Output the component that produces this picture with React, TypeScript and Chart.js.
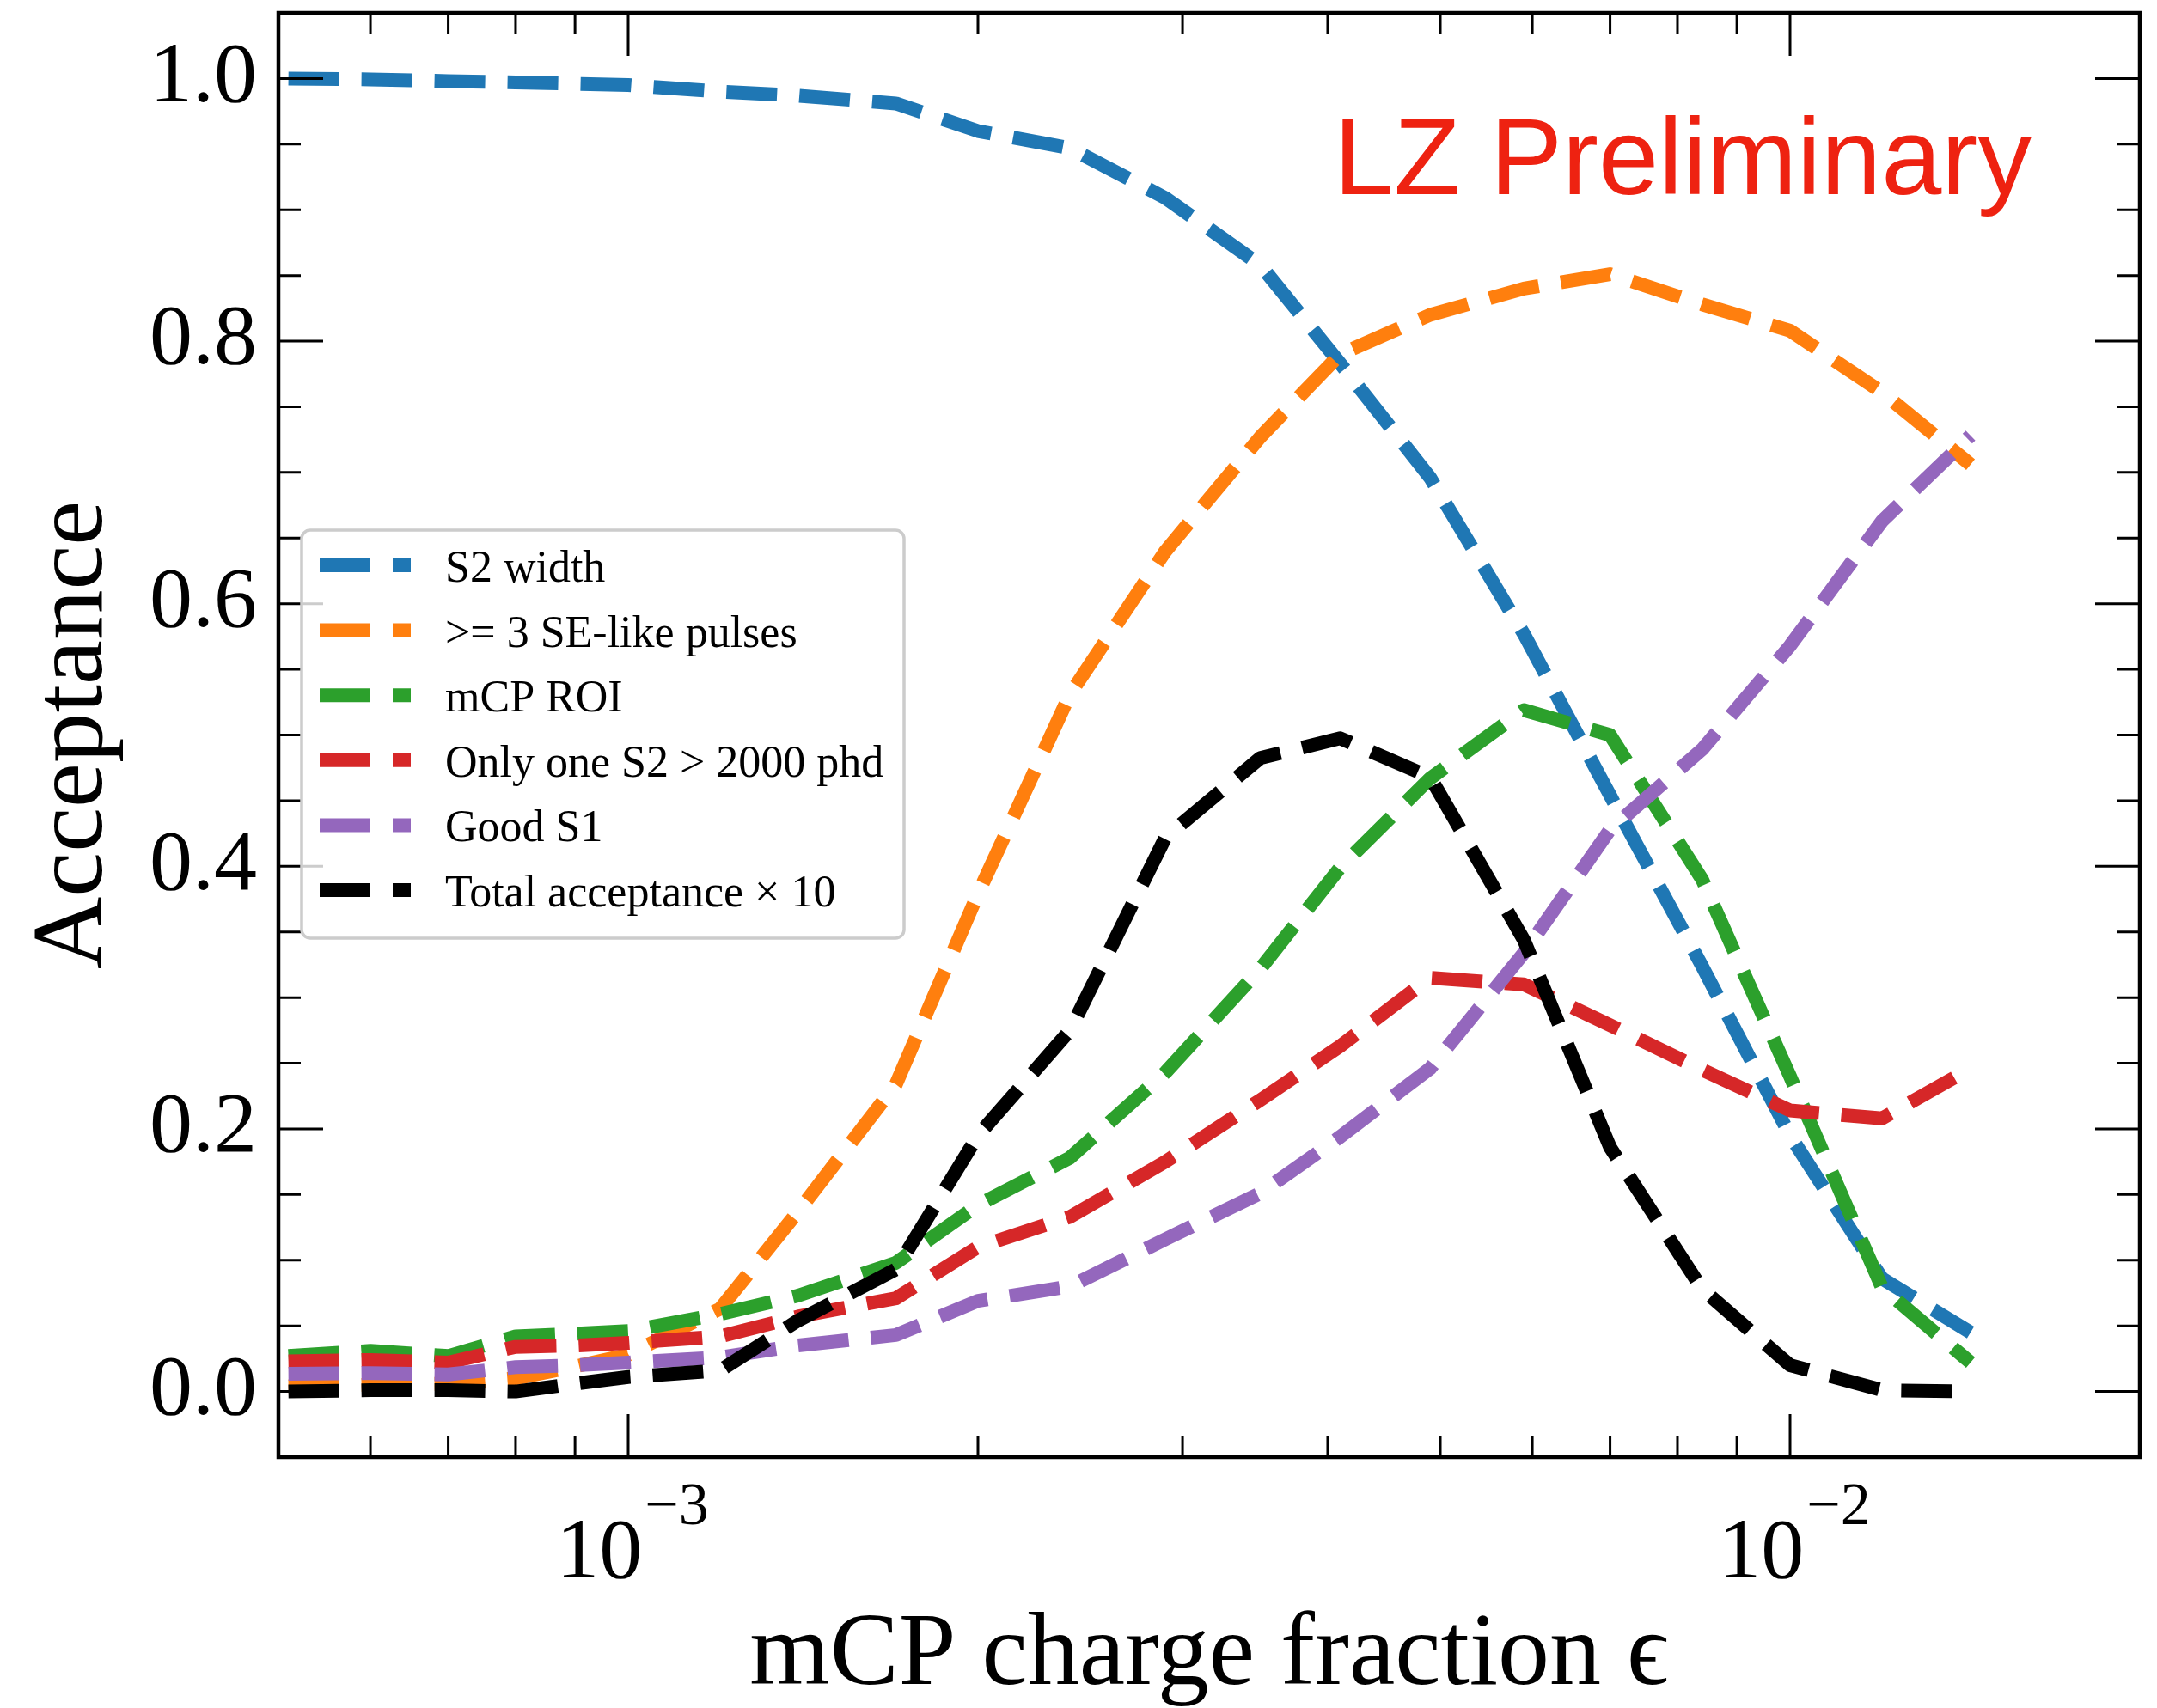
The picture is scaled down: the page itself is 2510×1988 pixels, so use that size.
import React, { useEffect, useRef } from "react";
import { Chart, registerables } from "chart.js";

Chart.register(...registerables);

// ---------------- data ----------------
const epsilon = [
  5.1e-4, 6e-4, 7e-4, 8e-4, 9e-4, 1e-3, 1.2e-3, 1.4e-3, 1.7e-3, 2e-3, 2.4e-3,
  2.9e-3, 3.5e-3, 4.1e-3, 4.9e-3, 5.9e-3, 7e-3, 8.4e-3, 1e-2, 1.2e-2, 1.43e-2,
];
const s2Width = [
  1.0, 0.9993, 0.998, 0.997, 0.996, 0.995, 0.99, 0.987, 0.981, 0.96, 0.947,
  0.909, 0.858, 0.783, 0.696, 0.577, 0.454, 0.324, 0.195, 0.086, 0.045,
];
const seLikePulses = [
  0.004, 0.005, 0.006, 0.01, 0.019, 0.028, 0.063, 0.137, 0.234, 0.379, 0.531,
  0.64, 0.727, 0.79, 0.82, 0.84, 0.851, 0.828, 0.808, 0.761, 0.706,
];
const mcpRoi = [
  0.027, 0.031, 0.027, 0.042, 0.044, 0.046, 0.059, 0.073, 0.098, 0.142, 0.178,
  0.243, 0.322, 0.399, 0.467, 0.519, 0.5, 0.39, 0.24, 0.079, 0.022,
];
const onlyOneS2 = [
  0.023, 0.024, 0.022, 0.034, 0.035, 0.037, 0.042, 0.057, 0.071, 0.11, 0.133,
  0.175, 0.222, 0.263, 0.315, 0.31, 0.279, 0.245, 0.214, 0.208, 0.246,
];
const goodS1 = [
  0.0135, 0.014, 0.013, 0.0185, 0.02, 0.022, 0.026, 0.035, 0.043, 0.069, 0.08,
  0.116, 0.151, 0.194, 0.246, 0.334, 0.428, 0.489, 0.568, 0.663, 0.728,
];
const totalAcceptanceX10 = [
  0.0, 0.001, 0.001, 0.0, 0.006, 0.011, 0.016, 0.054, 0.093, 0.195, 0.275,
  0.422, 0.4825, 0.4975, 0.468, 0.344, 0.186, 0.078, 0.02, 0.001, 0.0,
];

const seriesLabels = [
  "S2 width",
  ">= 3 SE-like pulses",
  "mCP ROI",
  "Only one S2 > 2000 phd",
  "Good S1",
  "Total acceptance \u00d7 10",
];
const seriesValues = [s2Width, seLikePulses, mcpRoi, onlyOneS2, goodS1, totalAcceptanceX10];
const seriesColors = ["#1f77b4", "#ff7f0e", "#2ca02c", "#d62728", "#9467bd", "#000000"];

const yTickValues = [0, 0.2, 0.4, 0.6, 0.8, 1.0];
const xTickValues = [1e-3, 1e-2];
const X_MIN = 5e-4;
const X_MAX = 2e-2;
const Y_MIN = -0.05;
const Y_MAX = 1.05;

const xTitle = "mCP charge fraction \u03f5";
const yTitle = "Acceptance";
const watermark = "LZ Preliminary";

const W = 2510;
const H = 1988;
const SERIF = '"Liberation Serif", "Times New Roman", "DejaVu Serif", serif';
const SANS = '"Liberation Sans", Arial, Helvetica, sans-serif';

// ---------------- plugins ----------------
const mplFrame = {
  id: "mplFrame",
  afterDatasetsDraw(chart: any) {
    const { ctx, chartArea: a, scales } = chart;
    const xs = scales.x;
    const ys = scales.y;
    ctx.save();
    ctx.setLineDash([]);
    ctx.strokeStyle = "#000";
    ctx.lineCap = "butt";
    ctx.lineWidth = 3;

    const hTick = (y: number, len: number) => {
      ctx.beginPath();
      ctx.moveTo(a.left, y);
      ctx.lineTo(a.left + len, y);
      ctx.moveTo(a.right, y);
      ctx.lineTo(a.right - len, y);
      ctx.stroke();
    };
    const vTick = (x: number, len: number) => {
      ctx.beginPath();
      ctx.moveTo(x, a.bottom);
      ctx.lineTo(x, a.bottom - len);
      ctx.moveTo(x, a.top);
      ctx.lineTo(x, a.top + len);
      ctx.stroke();
    };

    // y major + minor ticks
    yTickValues.forEach((v) => hTick(ys.getPixelForValue(v), 52));
    const nMinor = Math.round((Y_MAX - Y_MIN) / 0.05);
    for (let k = 1; k < nMinor; k++) {
      const v = Math.round((Y_MIN + 0.05 * k) * 1000) / 1000;
      const r = v / 0.2;
      if (Math.abs(r - Math.round(r)) < 1e-6) continue;
      hTick(ys.getPixelForValue(v), 26);
    }
    // x major + minor ticks (log)
    xTickValues.forEach((v) => vTick(xs.getPixelForValue(v), 50));
    for (let e = -5; e <= -1; e++) {
      for (let m = 2; m <= 9; m++) {
        const v = m * Math.pow(10, e);
        if (v <= X_MIN * 1.0001 || v >= X_MAX * 0.9999) continue;
        vTick(xs.getPixelForValue(v), 25);
      }
    }

    // frame
    ctx.lineWidth = 4.5;
    ctx.strokeRect(a.left, a.top, a.right - a.left, a.bottom - a.top);

    // x tick labels 10^{n}
    ctx.fillStyle = "#000";
    ctx.textBaseline = "alphabetic";
    ctx.textAlign = "left";
    xTickValues.forEach((v) => {
      const px = xs.getPixelForValue(v);
      const exp = Math.round(Math.log10(v));
      const base = "10";
      const sup = (exp < 0 ? "\u2212" : "") + Math.abs(exp);
      ctx.font = `100px ${SERIF}`;
      const wb = ctx.measureText(base).width;
      ctx.font = `70px ${SERIF}`;
      const ws = ctx.measureText(sup).width;
      const start = px - (wb + ws + 3) / 2 + 5;
      ctx.font = `100px ${SERIF}`;
      ctx.fillText(base, start, a.bottom + 140);
      ctx.font = `70px ${SERIF}`;
      ctx.fillText(sup, start + wb + 3, a.bottom + 78);
    });
    ctx.restore();
  },
  afterDraw(chart: any) {
    const { ctx, chartArea: a } = chart;
    ctx.save();
    // legend box
    const bx = a.left + 27;
    const by = a.top + 602;
    const bw = 701;
    const bh = 475;
    const r = 10;
    ctx.beginPath();
    ctx.moveTo(bx + r, by);
    ctx.lineTo(bx + bw - r, by);
    ctx.arcTo(bx + bw, by, bx + bw, by + r, r);
    ctx.lineTo(bx + bw, by + bh - r);
    ctx.arcTo(bx + bw, by + bh, bx + bw - r, by + bh, r);
    ctx.lineTo(bx + r, by + bh);
    ctx.arcTo(bx, by + bh, bx, by + bh - r, r);
    ctx.lineTo(bx, by + r);
    ctx.arcTo(bx, by, bx + r, by, r);
    ctx.closePath();
    ctx.fillStyle = "rgba(255,255,255,0.8)";
    ctx.fill();
    ctx.strokeStyle = "#cccccc";
    ctx.lineWidth = 3.5;
    ctx.stroke();

    chart.data.datasets.forEach((ds: any, i: number) => {
      const y = by + 41 + 75.6 * i;
      ctx.strokeStyle = ds.borderColor;
      ctx.lineWidth = 16;
      ctx.lineCap = "butt";
      ctx.setLineDash([59, 26]);
      ctx.beginPath();
      ctx.moveTo(bx + 21, y);
      ctx.lineTo(bx + 127, y);
      ctx.stroke();
      ctx.setLineDash([]);
      ctx.fillStyle = "#000";
      ctx.font = `52px ${SERIF}`;
      ctx.textAlign = "left";
      ctx.textBaseline = "alphabetic";
      ctx.fillText(ds.label, bx + 167, y + 19);
    });

    // watermark
    ctx.fillStyle = "#ee2211";
    ctx.font = `126px ${SANS}`;
    ctx.textAlign = "left";
    ctx.textBaseline = "alphabetic";
    ctx.fillText(watermark, a.left + 1228, a.top + 211);
    ctx.restore();
  },
};

export default function App() {
  const ref = useRef<HTMLCanvasElement>(null);

  useEffect(() => {
    const canvas = ref.current;
    if (!canvas) return;
    const datasets = seriesValues.map((vals, i) => ({
      label: seriesLabels[i],
      data: vals.map((y, j) => ({ x: epsilon[j], y })),
      borderColor: seriesColors[i],
      backgroundColor: seriesColors[i],
      borderWidth: 16,
      borderDash: [59, 26],
      borderCapStyle: "butt" as const,
      borderJoinStyle: "round" as const,
      pointRadius: 0,
      pointHoverRadius: 0,
      tension: 0,
      fill: false,
      order: seriesValues.length - i,
    }));

    const chart = new Chart(canvas, {
      type: "line",
      data: { datasets },
      options: {
        responsive: false,
        maintainAspectRatio: false,
        devicePixelRatio: 1,
        animation: false,
        events: [],
        layout: { padding: { top: 15, right: 20, left: 0, bottom: 0 } },
        plugins: {
          legend: { display: false },
          tooltip: { enabled: false },
        },
        scales: {
          x: {
            type: "logarithmic",
            min: X_MIN,
            max: X_MAX,
            afterBuildTicks: (s: any) => {
              s.ticks = xTickValues.map((v) => ({ value: v, major: true }));
            },
            ticks: { display: false },
            grid: { display: false, drawTicks: false },
            border: { display: false },
            title: {
              display: true,
              text: xTitle,
              color: "#000",
              font: { family: SERIF, size: 120, lineHeight: 1 },
              padding: { top: 0, bottom: 0 },
            },
            afterFit: (s: any) => {
              s.height = 292;
              s.paddingLeft = 0;
              s.paddingRight = 0;
            },
          },
          y: {
            type: "linear",
            min: Y_MIN,
            max: Y_MAX,
            afterBuildTicks: (s: any) => {
              s.ticks = yTickValues.map((v) => ({ value: v }));
            },
            ticks: {
              callback: (v: any) => Number(v).toFixed(1),
              color: "#000",
              font: { family: SERIF, size: 100 },
              padding: 25,
              autoSkip: false,
            },
            grid: { display: false, drawTicks: false },
            border: { display: false },
            title: {
              display: true,
              text: yTitle,
              color: "#000",
              font: { family: SERIF, size: 117, lineHeight: 1 },
              padding: { top: 29, bottom: 0 },
            },
            afterFit: (s: any) => {
              s.width = 324;
              s.paddingTop = 0;
              s.paddingBottom = 0;
            },
          },
        },
      },
      plugins: [mplFrame],
    } as any);

    return () => chart.destroy();
  }, []);

  return (
    <div style={{ position: "fixed", left: 0, top: 0, width: W, height: H, background: "#fff" }}>
      <canvas ref={ref} width={W} height={H} style={{ width: W, height: H, display: "block" }} />
    </div>
  );
}
